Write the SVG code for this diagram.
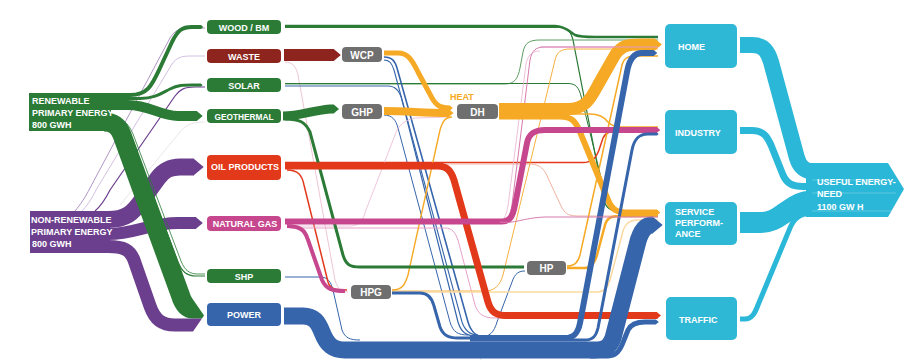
<svg xmlns="http://www.w3.org/2000/svg" width="904" height="360" viewBox="0 0 904 360">
<style>
text{font-family:"Liberation Sans",Arial,sans-serif;font-weight:bold;fill:#fff}
.l{font-size:9px}
.c{font-size:9px;text-anchor:middle}
.g{font-size:10px;text-anchor:middle}
.f{fill:none}
.thin{fill:none;stroke-width:1}
</style>
<defs>
<marker id="mG" viewBox="0 0 6 10" refX="0.3" refY="5" markerWidth="0.6" markerHeight="1" orient="auto"><path d="M0,0L6,5L0,10z" fill="#2b7b37"/></marker>
<marker id="mP" viewBox="0 0 6 10" refX="0.3" refY="5" markerWidth="0.6" markerHeight="1" orient="auto"><path d="M0,0L6,5L0,10z" fill="#6c3f8e"/></marker>
<marker id="mW" viewBox="0 0 6 10" refX="0.3" refY="5" markerWidth="0.6" markerHeight="1" orient="auto"><path d="M0,0L6,5L0,10z" fill="#8e241e"/></marker>
<marker id="mR" viewBox="0 0 6 10" refX="0.3" refY="5" markerWidth="0.6" markerHeight="1" orient="auto"><path d="M0,0L6,5L0,10z" fill="#e2391b"/></marker>
<marker id="mN" viewBox="0 0 6 10" refX="0.3" refY="5" markerWidth="0.6" markerHeight="1" orient="auto"><path d="M0,0L6,5L0,10z" fill="#c7478f"/></marker>
<marker id="mO" viewBox="0 0 6 10" refX="0.3" refY="5" markerWidth="0.6" markerHeight="1" orient="auto"><path d="M0,0L6,5L0,10z" fill="#f6a924"/></marker>
<marker id="mB" viewBox="0 0 6 10" refX="0.3" refY="5" markerWidth="0.6" markerHeight="1" orient="auto"><path d="M0,0L6,5L0,10z" fill="#3665ab"/></marker>
</defs>
<rect width="904" height="360" fill="#fff"/>

<g id="connectors">
 <g class="thin">
  <path d="M75 211C80 205 85 198 90 188L170 38C175 30 180 28 190 28L205 28" stroke="#9b7ab8" stroke-width="0.8"/>
  <path d="M82 211C88 205 92 198 96 190L172 64C177 57 182 56 192 56L205 56" stroke="#c6b0da" stroke-width="0.8"/>
  <path d="M95 211C102 205 106 198 110 190L175 96C180 89 185 87 195 87L205 87" stroke="#6c3f8e" stroke-width="1.2"/>
  <path d="M205 122C190 122 185 126 180 132L120 205" stroke="#dddddd" stroke-width="0.7"/>
  <path d="M285 62C293 62 296 67 298 75L335 280C338 290 342 292 348 292" stroke="#eab7c6" stroke-width="0.8"/>
  <path d="M285 26L555 26C565 26 570 32 575 35C580 37 585 37 595 37L658 37" stroke="#2b7b37" stroke-width="2.5"/>
  <path d="M285 27.5L560 27.5C568 27.5 571 32 573 40L604 200C606 208 610 211 620 211L658 211" stroke="#2b7b37" stroke-width="1.2"/>
  <path d="M285 84L505 84C515 84 518 78 520 68L523 52C525 43 529 40 540 40L658 40" stroke="#5e9e63" stroke-width="1"/>
  <path d="M285 83.5L568 83.5C576 83.5 579 88 581 96L607 202C609 209 613 212.5 622 212.5L658 212.5" stroke="#2b7b37" stroke-width="1"/>
  <path d="M285 86L388 86C396 86 400 92 402 100L458 322C461 332 466 336 476 336" stroke="#3665ab" stroke-width="1.2"/>
  <path d="M384 57C392 57 395 61 397 68L468 322C471 332 476 337 486 337L565 337" stroke="#3665ab" stroke-width="1.6"/>
  <path d="M384 60C390 60 392 64 394 70L462 322C465 331 470 335 478 335" stroke="#3665ab" stroke-width="1.1"/>
  <path d="M384 115C392 115 396 120 398 128L450 322C453 332 458 335 468 335" stroke="#3665ab" stroke-width="1"/>
  <path d="M285 277L320 277C328 277 331 282 333 290L342 330C345 338 350 340 360 340" stroke="#3665ab" stroke-width="1"/>
  <path d="M480 337C490 337 494 332 497 322L512 282C515 273 519 271 525 271" stroke="#3665ab" stroke-width="1"/>
  <path d="M481 335L481 360" stroke="#d5e3f2" stroke-width="1"/>
  <path d="M287 170C298 170 302 175 304 185L328 282C330 289 335 290 347 290" stroke="#e2391b" stroke-width="1.5"/>
  <path d="M285 162.5L583 162.5C592 162.5 596 158 599 150L603 138C606 132 610 131 620 131L658 131" stroke="#e2391b" stroke-width="1.5"/>
  <path d="M285 164L530 164C540 164 545 170 548 178L562 208C566 215 570 216 580 216L658 216" stroke="#f2b3a0" stroke-width="1"/>
  <path d="M290 228L445 228C452 228 455 232 458 240L475 305C478 313 482 318 495 318L658 318.5" stroke="#e7a0c8" stroke-width="1"/>
  <path d="M500 222C508 222 510 215 512 205L530 60C532 50 536 47 545 47L658 47" stroke="#d77aae" stroke-width="1"/>
  <path d="M496 223C504 223 506 216 508 206L526 64C528 55 532 51 540 51" stroke="#eab0d0" stroke-width="0.8"/>
  <path d="M290 226L350 226C360 226 363 220 366 210L395 135C398 125 405 120 415 118L450 117" stroke="#eab7d3" stroke-width="0.8"/>
  <path d="M392 290C402 290 405 285 408 275L440 130C443 120 446 117 452 117" stroke="#f6a924" stroke-width="1.4"/>
  <path d="M392 291L485 291C495 291 500 285 503 275L555 60C557 52 561 49 570 49L658 49" stroke="#f6b040" stroke-width="1"/>
  <path d="M392 292L598 292C605 292 608 287 610 280L622 235C624 225 628 220 638 220L658 220" stroke="#fad9a0" stroke-width="1.5"/>
  <path d="M567 268L585 268C592 268 595 262 597 255L605 225C607 218 611 216 620 216L658 216" stroke="#f6a924" stroke-width="2.5"/>
  <path d="M567 266C575 266 578 262 580 255L622 65C624 58 628 56 636 56L658 56" stroke="#f6a924" stroke-width="1.5"/>
  <path d="M499 114L590 114C600 114 605 118 608 122C612 126 615 127 625 127L658 127" stroke="#f6a924" stroke-width="1.5"/>
  <path d="M285 119C300 119 305 122 310 132L343 255C346 265 350 267 360 267L524 267" stroke="#2b7b37" stroke-width="3"/>
  <path d="M392 293L420 293C428 293 432 298 434 306L440 327C443 335 448 338 458 338L470 338" stroke="#3665ab" stroke-width="3"/>
 </g>
 <g class="f">
  <path d="M108 95L130 95C148 95 152 85 160 68L172 42C178 30 182 27 192 27L201 27" stroke="#2b7b37" stroke-width="4" marker-end="url(#mG)"/>
  <path d="M108 98.5L140 98.5C155 98.5 162 93 170 89C178 85 183 85 192 85L201 85" stroke="#2b7b37" stroke-width="3" marker-end="url(#mG)"/>
  <path d="M108 105L128 105C150 105 160 116 178 116L197 116" stroke="#2b7b37" stroke-width="10" marker-end="url(#mG)"/>
  <path d="M108 219.5C126 219.5 133 213 142 200L158 178C164 170 170 167 180 167L194 167" stroke="#6c3f8e" stroke-width="17" marker-end="url(#mP)"/>
  <path d="M108 234C135 234 150 223 178 223L196 223" stroke="#6c3f8e" stroke-width="12" marker-end="url(#mP)"/>
  <path d="M108 246.5C124 246.5 130 250 134 260L150 306C155 320 162 325 175 325L193 325" stroke="#6c3f8e" stroke-width="13"/>
  <path d="M104 122C114 122 119 127 122 135L180 294C183 304 187 309 193 309" stroke="#2b7b37" stroke-width="19"/>
  <path d="M284 55L334 55" stroke="#8e241e" stroke-width="12" marker-end="url(#mW)"/>
  <path d="M283 116C300 116 310 111 330 109L334 109" stroke="#2b7b37" stroke-width="9" marker-end="url(#mG)"/>
  <path d="M384 53L398 53C408 53 412 60 418 72L432 98C437 107 442 108 450 108" stroke="#f6a924" stroke-width="5" marker-end="url(#mO)"/>
  <path d="M384 111C410 111 420 113 449 113" stroke="#f6a924" stroke-width="8" marker-end="url(#mO)"/>
  <path d="M499 109L568 109C585 109 590 100 598 85L615 55C622 45 628 44.5 640 44.5L655 44.5" stroke="#f6a924" stroke-width="12" marker-end="url(#mO)"/>
  <path d="M499 116.5L560 116.5C572 116.5 576 122 580 132L608 200C612 210 617 212.5 628 212.5L657 212.5" stroke="#f6a924" stroke-width="6" marker-end="url(#mO)"/>
  <path d="M285 166L438 166C447 166 451 171 454 180L488 302C491 312 496 315.5 506 315.5L657 315.5" stroke="#e2391b" stroke-width="7" marker-end="url(#mR)"/>
  <path d="M285 221.5L502 221.5C510 221.5 513 216 515 205L527 143C529 133 535 130 545 130L657 130" stroke="#c7478f" stroke-width="6" marker-end="url(#mN)"/>
  <path d="M287 226C300 226 305 230 308 240L322 280C326 289 332 291 345 291" stroke="#c7478f" stroke-width="4"/>
  <path d="M284 316L303 316C314 316 318 322 322 332C327 345 333 350 345 350L595 350C606 350 610 346 613 338L637 245C640 232 645 225 652 225L653 225" stroke="#3665ab" stroke-width="17" marker-end="url(#mB)"/>
  <path d="M470 338L565 338C574 338 578 333 580 323L627 72C629 60 634 53 642 53L654 53" stroke="#3665ab" stroke-width="6" marker-end="url(#mB)"/>
  <path d="M470 340L585 340C593 340 596 336 598 328L632 150C634 140 638 134 648 134L657 134" stroke="#3665ab" stroke-width="3" marker-end="url(#mB)"/>
  <path d="M590 356L608 356C616 356 620 351 624 340L628 330C631 324 636 322 645 322L656 322" stroke="#3665ab" stroke-width="5" marker-end="url(#mB)"/>
  <path d="M500 222C515 224 522 218 545 217L658 217" stroke="#d77aae" stroke-width="1"/>
  <path d="M540 47L658 47" stroke="#e59ac4" stroke-width="1"/>
 </g>
 <g class="thin">
  <path d="M112 120C122 120 126 126 130 135L178 262C182 272 187 276 196 276L205 276" stroke="#2b7b37" stroke-width="1.2"/>
  <path d="M115 119C125 119 129 125 133 134L181 261C185 271 190 274 198 274L205 274" stroke="#2b7b37" stroke-width="0.8"/>
 </g>
 <polygon points="193,299.5 204,315.5 202,318.5 193,318.5" fill="#2b7b37"/>
 <polygon points="193,318.5 202,318.5 193,331.5" fill="#6c3f8e"/>
 <g class="f" stroke="#2bb7d8">
  <path d="M740 45L752 45C764 45 768 52 771 62L797 158C800 168 806 172 816 172L840 172" stroke-width="16"/>
  <path d="M740 130.5L752 130.5C763 130.5 767 136 771 145L783 175C787 184 793 186.5 803 186.5L840 186.5" stroke-width="7"/>
  <path d="M740 222.5L760 222.5C770 222.5 776 219 783 214L795 206C802 201.5 808 200.5 818 200.5L840 200.5" stroke-width="21"/>
  <path d="M740 319L745 319C752 319 755 313 758 305L790 228C794 218 800 213.5 810 213.5L840 213.5" stroke-width="5"/>
 </g>
</g>

<g id="n-renewable"><rect x="29" y="93" width="82" height="38" fill="#2b7b37"/>
 <text class="l" x="32" y="104">RENEWABLE</text><text class="l" x="32" y="116">PRIMARY ENERGY</text><text class="l" x="32" y="128">800 GWH</text></g>
<g id="n-nonrenewable"><rect x="30" y="211" width="80" height="42" fill="#6c3f8e"/>
 <text class="l" x="31" y="223">NON-RENEWABLE</text><text class="l" x="31" y="235">PRIMARY ENERGY</text><text class="l" x="32" y="247">800 GWH</text></g>

<g id="n-wood"><rect x="207" y="20" width="74" height="14" rx="4" fill="#2b7b37"/><text class="c" x="244" y="31">WOOD / BM</text></g>
<g id="n-waste"><rect x="207" y="49" width="74" height="14" rx="4" fill="#8e241e"/><text class="c" x="244" y="60">WASTE</text></g>
<g id="n-solar"><rect x="207" y="78" width="74" height="14" rx="4" fill="#2b7b37"/><text class="c" x="244" y="89">SOLAR</text></g>
<g id="n-geothermal"><rect x="207" y="109" width="74" height="14" rx="4" fill="#2b7b37"/><text class="c" x="244" y="120" textLength="59" lengthAdjust="spacingAndGlyphs">GEOTHERMAL</text></g>
<g id="n-oil"><rect x="207" y="155" width="74" height="25" rx="4" fill="#e2391b"/><text class="c" x="245" y="170">OIL PRODUCTS</text></g>
<g id="n-gas"><rect x="207" y="216" width="74" height="15" rx="4" fill="#c7478f"/><text class="c" x="245" y="227">NATURAL GAS</text></g>
<g id="n-shp"><rect x="207" y="269" width="74" height="14" rx="4" fill="#2b7b37"/><text class="c" x="244" y="280">SHP</text></g>
<g id="n-power"><rect x="207" y="303" width="74" height="23" rx="4" fill="#3665ab"/><text class="c" x="244" y="318">POWER</text></g>

<g id="n-wcp"><rect x="342" y="47" width="40" height="15" rx="4" fill="#6f6f6f"/><text class="g" x="362" y="58.5">WCP</text></g>
<g id="n-ghp"><rect x="342" y="104" width="40" height="15" rx="4" fill="#6f6f6f"/><text class="g" x="362" y="115.5">GHP</text></g>
<g id="n-dh"><rect x="457" y="104" width="41" height="15" rx="4" fill="#6f6f6f"/><text class="g" x="477.5" y="115.5">DH</text>
 <text x="450" y="100" style="font-size:9px;fill:#f6a924">HEAT</text></g>
<g id="n-hpg"><rect x="351" y="285" width="40" height="14" rx="4" fill="#6f6f6f"/><text class="g" x="371" y="296">HPG</text></g>
<g id="n-hp"><rect x="527" y="261" width="39" height="14" rx="4" fill="#6f6f6f"/><text class="g" x="546.5" y="272">HP</text></g>

<g id="n-home"><rect x="665" y="24" width="72" height="44" rx="5" fill="#2fb8d6"/><text class="l" x="678" y="50">HOME</text></g>
<g id="n-industry"><rect x="665" y="110" width="72" height="44" rx="5" fill="#2fb8d6"/><text class="l" x="675" y="136">INDUSTRY</text></g>
<g id="n-service"><rect x="665" y="202" width="72" height="43" rx="5" fill="#2fb8d6"/><text class="l" x="675" y="215">SERVICE</text><text class="l" x="675" y="226">PERFORM-</text><text class="l" x="675" y="237">ANCE</text></g>
<g id="n-traffic"><rect x="666" y="297" width="71" height="43" rx="5" fill="#2fb8d6"/><text class="l" x="679" y="323">TRAFFIC</text></g>

<g id="n-useful"><polygon points="806,163 888,163 904,189 888,217 806,217" fill="#2bb7d8"/>
 <path d="M812 180H890M812 193H896M812 211H892" stroke="#fff" stroke-opacity="0.35" stroke-width="0.7" fill="none"/>
 <text class="l" x="817" y="185">USEFUL ENERGY-</text><text class="l" x="817" y="197">NEED</text><text class="l" x="817" y="210">1100 GW</text><text class="l" x="857" y="210">H</text></g>
</svg>
